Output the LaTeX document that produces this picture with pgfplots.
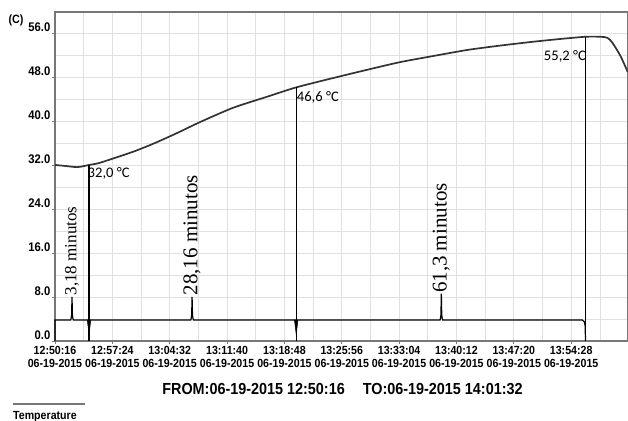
\documentclass[border=0pt]{standalone}
\usepackage{fontspec}
\setmainfont{Liberation Sans}
\newfontfamily\narrowb[FakeStretch=0.9]{Liberation Sans}
\newfontfamily\calfont{Carlito}
\newfontfamily\tnr{Liberation Serif}
\usepackage{pgfplots}
\pgfplotsset{compat=1.18}
\definecolor{curve}{HTML}{333333}
\definecolor{gridc}{HTML}{E0E0E0}
\definecolor{axisc}{HTML}{777777}
\begin{document}
\begin{tikzpicture}
\begin{axis}[
  scale only axis, width=573bp, height=329bp,
  at={(0,0)}, anchor=south west,
  xmin=0, xmax=4276, ymin=0, ymax=59.8,
  xtick={0,428,856,1284,1712,2140,2568,2996,3424,3852},
  minor xtick={214,642,1070,1498,1926,2354,2782,3210,3638,4066},
  xticklabels={{12:50:16\\06-19-2015},{12:57:24\\06-19-2015},{13:04:32\\06-19-2015},{13:11:40\\06-19-2015},{13:18:48\\06-19-2015},{13:25:56\\06-19-2015},{13:33:04\\06-19-2015},{13:40:12\\06-19-2015},{13:47:20\\06-19-2015},{13:54:28\\06-19-2015}},
  ytick={0,8,16,24,32,40,48,56},
  minor ytick={4,12,20,28,36,44,52},
  grid=both,
  grid style={gridc, line width=0.7bp},
  minor grid style={gridc, line width=0.7bp},
  tick align=outside, major tick length=3bp, minor tick length=0bp,
  xtick pos=bottom, ytick pos=left,
  tick style={axisc, line width=0.7bp},
  axis line style={axisc, line width=1.4bp},
  /pgf/number format/.cd, fixed, fixed zerofill, precision=1, assume math mode=true,
  /pgfplots/.cd,
  xticklabel style={align=center, font=\narrowb\bfseries\fontsize{11.8bp}{13bp}\selectfont, inner sep=1bp, yshift=-1bp},
  yticklabel style={anchor=south east, inner sep=1.5bp, font=\narrowb\bfseries\fontsize{12.5bp}{13bp}\selectfont},
  clip=false,
]
% temperature curve
\addplot[curve, line width=1.7bp, smooth, tension=0.4] coordinates {
 (0,32.0) (82,31.8) (164,31.6) (217,31.8) (254,32.0) (336,32.4) (583,34.4)
 (747,36.0) (911,37.8) (1083,39.8) (1330,42.4) (1583,44.4) (1800,46.1)
 (2076,47.8) (2330,49.3) (2577,50.7) (2823,51.8) (3077,52.9) (3324,53.7)
 (3570,54.4) (3772,54.9) (3959,55.3) (4071,55.3) (4123,55.1) (4160,54.2)
 (4220,51.8) (4274,48.9)
};
% event trace
\addplot[black, line width=1.2bp] coordinates {
 (0,0) (0,3.8) (117,3.8) (121,4.2) (124,4.7) (127,8.0) (130,4.7) (133,4.2) (137,3.8)
 (1013,3.8) (1017,4.2) (1020,4.7) (1023,8.0) (1026,4.7) (1029,4.2) (1033,3.8)
 (2873,3.8) (2877,4.2) (2880,4.7) (2883,8.6) (2886,4.7) (2889,4.2) (2893,3.8)
 (3935,3.8) (3950,3.5) (3956,2.8) (3959,0)
};
\addplot[black, fill=black, line width=0.5bp] coordinates {(241,3.8) (267,3.8) (254,1.2)} --cycle;
\addplot[black, fill=black, line width=0.5bp] coordinates {(1787,3.8) (1813,3.8) (1800,1.2)} --cycle;
% vertical markers
\addplot[black, line width=1.2bp] coordinates {(254,0) (254,32.0)};
\addplot[black, line width=1.2bp] coordinates {(1800,0) (1800,46.1)};
\addplot[black, line width=1.2bp] coordinates {(3959,0) (3959,55.3)};
% annotations
\node[anchor=west, inner sep=0pt, xshift=-1.5bp, font=\calfont\fontsize{14.6bp}{16bp}\selectfont] at (axis cs:254,30.4) {32,0 °C};
\node[anchor=west, inner sep=0pt, xshift=0.5bp, font=\calfont\fontsize{14.6bp}{16bp}\selectfont] at (axis cs:1800,44.3) {46,6 °C};
\node[anchor=east, inner sep=0pt, xshift=0.5bp, font=\calfont\fontsize{14.6bp}{16bp}\selectfont] at (axis cs:3959,51.7) {55,2 °C};
\node[rotate=90, anchor=west, inner sep=1.5bp, font=\tnr\fontsize{17bp}{19bp}\selectfont] at (axis cs:127,8.0) {3,18 minutos};
\node[rotate=90, anchor=west, inner sep=1.5bp, font=\tnr\fontsize{21bp}{23bp}\selectfont] at (axis cs:1023,8.0) {28,16 minutos};
\node[rotate=90, anchor=west, inner sep=0.5bp, font=\tnr\fontsize{21bp}{23bp}\selectfont] at (axis cs:2883,8.6) {61,3 minutos};
\end{axis}
\node[font=\narrowb\bfseries\fontsize{12bp}{13bp}\selectfont] at (-39bp,321bp) {(C)};
\node[font=\narrowb\bfseries\fontsize{16bp}{18bp}\selectfont] at (287.5bp,-48bp) {FROM:06-19-2015 12:50:16\hspace{18bp}TO:06-19-2015 14:01:32};
\draw[axisc, line width=1.8bp] (-42bp,-63bp) -- (30bp,-63bp);
\node[font=\narrowb\bfseries\fontsize{11.8bp}{13bp}\selectfont, anchor=west, inner sep=0pt] at (-42bp,-76bp) {Temperature};
\pgfresetboundingbox
\path[use as bounding box] (-55bp,-80bp) rectangle (573bp,341bp);
\end{tikzpicture}
\end{document}
